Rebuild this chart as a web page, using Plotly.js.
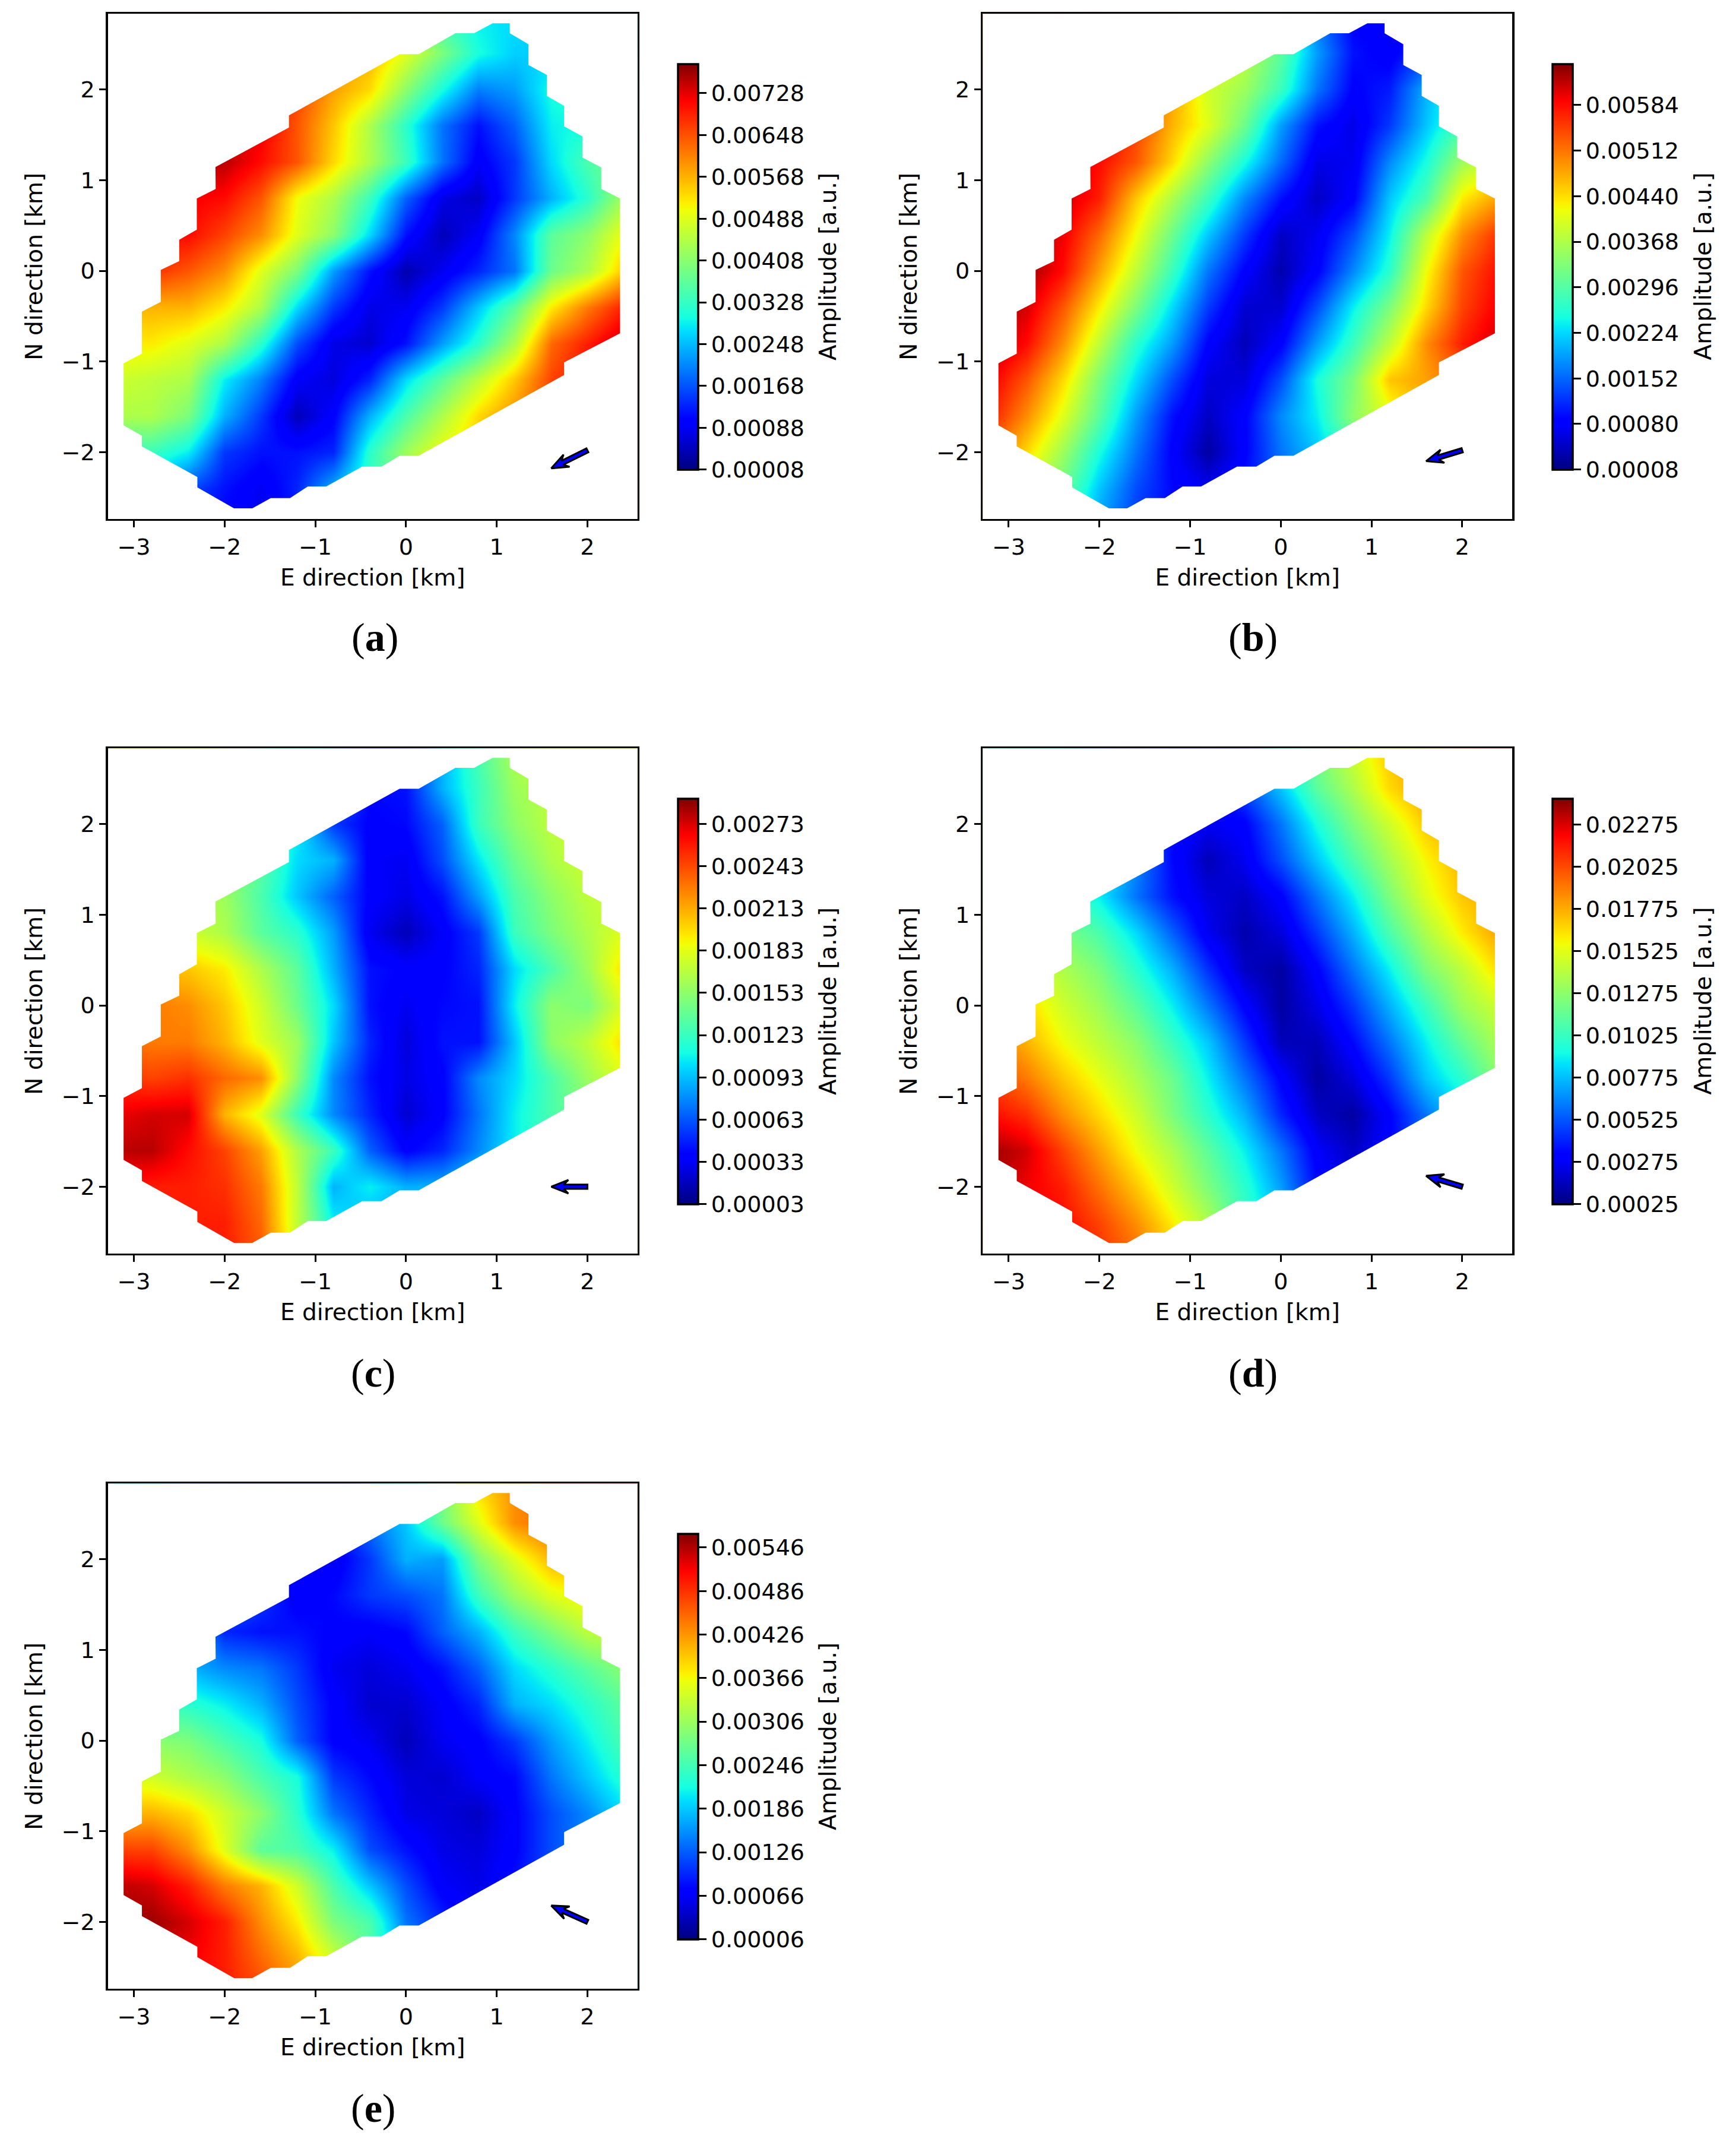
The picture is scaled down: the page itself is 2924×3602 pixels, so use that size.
<!DOCTYPE html>
<html><head><meta charset="utf-8">
<script src="https://cdn.plot.ly/plotly-3.0.1.min.js"></script>
<style>html,body{margin:0;padding:0;background:#fff}</style></head>
<body><div id="chart" style="width:2924px;height:3602px"></div>
<script>
const gridE=[-3.2,-2.8,-2.4,-2.0,-1.6,-1.2,-0.8,-0.4,0,0.4,0.8,1.2,1.6,2.0,2.4];
const gridN=[2.8,2.4,2.0,1.6,1.2,0.8,0.4,0,-0.4,-0.8,-1.2,-1.6,-2.0,-2.4,-2.8];
// colour level (percent of each colour bar) read at each grid node
const levelsA=[
[90,90,88,86,84,80,74,64,54,42,36,34,34,34,34],
[90,90,90,88,86,82,76,72,62,50,38,33,33,34,36],
[92,92,92,90,88,84,74,68,52,38,25,28,38,40,42],
[96,96,96,96,92,82,70,56,40,24,14,22,36,38,44],
[96,96,96,96,90,82,68,56,42,24,11,18,34,44,50],
[92,92,92,90,82,64,56,42,22,9,6,18,30,40,55],
[90,90,90,84,76,62,52,34,14,5,11,26,46,52,64],
[86,86,82,76,62,50,28,14,4,10,16,24,48,56,70],
[72,72,72,66,56,34,18,9,10,18,32,46,66,78,88],
[66,66,62,56,40,20,9,7,14,28,40,56,80,88,96],
[60,58,56,36,25,11,8,16,34,46,58,70,84,90,96],
[56,56,50,30,18,5,12,30,44,56,68,76,84,90,96],
[42,42,36,18,14,14,16,40,54,64,70,76,84,90,96],
[30,30,20,14,10,16,30,42,50,60,70,76,84,90,96],
[20,20,16,12,10,14,30,42,50,60,70,76,84,90,96]];
const levelsB=[
[94,94,92,88,80,72,64,56,44,24,12,10,14,20,30],
[96,96,94,90,82,74,66,58,46,28,14,11,18,26,34],
[98,98,96,92,84,74,60,54,42,24,12,15,30,40,46],
[98,98,96,94,84,72,62,48,28,14,9,18,32,44,52],
[98,98,96,90,82,68,52,38,23,9,10,26,38,54,62],
[98,98,95,88,70,56,42,26,14,6,12,32,44,66,74],
[98,98,92,80,64,48,32,18,6,10,20,36,58,76,86],
[99,98,90,74,58,42,24,12,4,12,26,40,64,82,90],
[98,94,82,66,50,34,18,7,7,20,36,50,68,84,92],
[97,90,76,58,40,28,12,5,12,28,42,58,76,88,95],
[92,82,68,50,34,20,8,8,20,38,50,70,74,80,90],
[88,76,62,46,28,14,6,12,26,36,52,62,72,80,90],
[80,68,54,38,24,12,3,12,24,32,44,56,72,80,90],
[72,60,48,32,20,13,10,14,22,30,44,56,72,80,90],
[66,56,44,28,18,12,10,14,22,30,44,56,72,80,90]];
const levelsC=[
[66,66,62,56,46,36,28,14,14,30,44,56,60,62,64],
[66,66,62,56,46,36,26,13,14,30,42,54,58,62,64],
[66,64,60,56,46,36,18,12,13,22,42,52,58,60,62],
[64,62,58,54,46,34,30,11,10,20,35,48,56,60,62],
[62,60,58,54,44,32,22,12,9,14,28,44,52,58,60],
[62,60,60,56,46,40,28,10,5,11,18,42,50,56,62],
[72,72,70,66,56,46,30,14,12,12,16,34,44,54,68],
[78,78,76,70,60,48,34,14,10,13,14,36,52,50,62],
[80,78,78,72,62,54,32,16,8,14,14,32,52,58,68],
[86,84,86,80,76,52,26,14,9,12,26,34,44,54,62],
[92,94,94,72,62,42,26,16,7,12,24,36,44,50,58],
[96,96,90,84,74,56,42,22,12,16,26,36,44,50,58],
[90,88,88,86,78,58,30,36,30,30,36,40,44,50,58],
[88,88,88,88,80,58,36,30,30,30,36,40,44,50,58],
[88,88,88,88,82,60,36,30,30,30,36,40,44,50,58]];
const levelsD=[
[44,38,30,24,18,12,8,14,36,50,60,70,76,80,84],
[46,40,34,28,20,13,8,20,32,46,56,68,74,78,82],
[48,44,38,32,22,13,10,12,24,38,50,60,70,74,78],
[50,46,42,36,26,13,5,10,20,32,44,55,65,72,76],
[54,50,44,36,24,14,8,6,12,24,36,50,62,70,74],
[60,56,50,44,34,22,10,4,8,18,30,44,56,66,74],
[66,62,56,50,40,30,17,6,3,12,24,36,50,58,68],
[72,68,60,54,46,36,24,12,3,9,18,30,42,54,60],
[78,72,64,58,52,42,32,18,5,5,13,24,36,47,56],
[84,78,70,63,56,48,36,24,12,3,8,18,32,40,52],
[90,86,76,68,60,50,40,30,16,6,3,12,24,34,46],
[98,94,84,74,64,56,46,36,24,11,6,12,22,32,44],
[98,92,88,79,70,60,50,40,28,13,8,12,22,32,44],
[96,92,90,84,76,66,56,42,32,16,8,12,22,32,44],
[96,92,90,86,80,70,60,46,34,18,8,12,22,32,44]];
const levelsE=[
[32,28,24,20,16,14,14,26,36,50,68,76,80,84,86],
[34,30,26,20,16,14,14,24,32,48,62,76,80,80,80],
[36,32,28,22,16,12,10,18,30,28,50,62,72,74,76],
[36,34,30,24,18,11,13,18,20,24,42,54,62,66,68],
[38,36,32,16,14,14,12,11,13,22,30,42,50,58,60],
[42,38,30,26,24,18,10,8,10,14,22,34,40,46,52],
[48,44,40,36,30,20,12,7,7,11,16,30,34,40,46],
[54,52,50,44,38,22,12,10,5,10,12,18,28,36,44],
[62,60,56,52,44,38,18,13,8,7,11,13,24,32,40],
[72,72,68,60,52,40,24,16,9,8,6,12,20,26,34],
[84,84,76,62,46,44,36,20,14,9,8,12,20,26,34],
[96,94,88,78,72,60,44,32,20,11,9,14,20,26,34],
[98,98,94,88,76,66,50,44,24,16,10,14,20,26,34],
[96,96,92,88,80,72,60,46,30,18,10,14,20,26,34],
[96,96,92,88,84,76,64,50,34,18,10,14,20,26,34]];
// survey footprint outline
const outlineE=[-2.10,-1.29,-1.29,-0.07,0.14,0.544,0.75,0.954,1.144,1.144,1.35,1.35,1.553,1.553,1.743,1.743,1.945,1.945,2.153,2.153,2.36,2.36,1.743,1.743,0.14,-0.07,-0.27,-0.483,-0.88,-1.083,-1.278,-1.49,-1.694,-1.896,-2.30,-2.30,-2.911,-2.911,-3.113,-3.113,-2.911,-2.911,-2.703,-2.703,-2.50,-2.50,-2.306,-2.306,-2.098,-2.10];
const outlineN=[1.145,1.58,1.715,2.39,2.39,2.62,2.62,2.73,2.73,2.62,2.50,2.27,2.16,1.93,1.82,1.594,1.483,1.25,1.14,0.903,0.797,-0.69,-1.01,-1.15,-2.04,-2.04,-2.16,-2.16,-2.38,-2.38,-2.507,-2.507,-2.62,-2.62,-2.39,-2.275,-1.937,-1.82,-1.705,-1.02,-0.913,-0.45,-0.343,0.01,0.106,0.343,0.454,0.797,0.903,1.145];
const ticksA=[0.00008,0.00088,0.00168,0.00248,0.00328,0.00408,0.00488,0.00568,0.00648,0.00728];
const ticksB=[0.00008,0.0008,0.00152,0.00224,0.00296,0.00368,0.0044,0.00512,0.00584];
const ticksC=[0.00003,0.00033,0.00063,0.00093,0.00123,0.00153,0.00183,0.00213,0.00243,0.00273];
const ticksD=[0.00025,0.00275,0.00525,0.00775,0.01025,0.01275,0.01525,0.01775,0.02025,0.02275];
const ticksE=[0.00006,0.00066,0.00126,0.00186,0.00246,0.00306,0.00366,0.00426,0.00486,0.00546];
const maxAmp=[0.00784,0.00649,0.00291,0.02429,0.00565];
const arrowTipE=[1.6,1.6,1.6,1.6,1.6];
const arrowTipN=[-2.18,-2.10,-2.0,-1.88,-1.82];
const arrowTailE=[2,2,2,2,2];
const arrowTailN=[-1.98,-1.98,-2.0,-2.0,-2.0];
const panelNames=['a','b','c','d','e'];
const allLevels=[levelsA,levelsB,levelsC,levelsD,levelsE];
const allTicks=[ticksA,ticksB,ticksC,ticksD,ticksE];

const W=2924,H=3602;
const offX=[0,1473.5,0,1473.5,0], offY=[0,0,1237,1237,2475];
const LW=3.5;
const capX=[631,2110,629,2110,629], capY=[1073,1073,2312,2312,3550];
const xRange=[-3.286,2.552], yRange=[-2.738,2.834];
const jet=[[0,'rgb(0,0,128)'],[0.11,'rgb(0,0,255)'],[0.125,'rgb(0,0,255)'],[0.34,'rgb(0,219,255)'],[0.35,'rgb(0,230,247)'],[0.375,'rgb(21,255,226)'],[0.64,'rgb(239,255,8)'],[0.65,'rgb(247,246,0)'],[0.66,'rgb(255,236,0)'],[0.89,'rgb(255,19,0)'],[0.91,'rgb(255,0,0)'],[1,'rgb(128,0,0)']];
const FONT='"DejaVu Sans", sans-serif', FS=38, TS=39;
const axisCommon={showgrid:false,zeroline:false,ticks:'outside',ticklen:11,tickwidth:3,tickcolor:'#000',linecolor:'#000',linewidth:LW,mirror:true,dtick:1,tick0:0,tickfont:{family:FONT,size:FS,color:'#000'},automargin:false};
const maskE=[xRange[0],xRange[1],xRange[1],xRange[0],xRange[0]].concat(outlineE,[xRange[0]]);
const maskN=[yRange[0],yRange[0],yRange[1],yRange[1],yRange[0]].concat(outlineN,[yRange[0]]);

function arrowPoly(x0,y0,x1,y1){
  const dx=x1-x0,dy=y1-y0,L=Math.hypot(dx,dy),ux=dx/L,uy=dy/L,px=-uy,py=ux;
  const pt=(back,off)=>[x1-ux*back+px*off,y1-uy*back+py*off];
  const pts=[pt(0,0),pt(0.19,0.075),pt(0.14,0.024),pt(L,0.024),pt(L,-0.024),pt(0.14,-0.024),pt(0.19,-0.075),pt(0,0)];
  return {x:pts.map(p=>p[0]),y:pts.map(p=>p[1])};
}
const traces=[],layout={width:W,height:H,autosize:false,margin:{l:0,r:0,t:0,b:0},paper_bgcolor:'#fff',plot_bgcolor:'#fff',showlegend:false,annotations:[]};
panelNames.forEach((name,i)=>{
  const s=i===0?'':String(i+1);
  const zmin=allTicks[i][0],zmax=maxAmp[i];
  const z=allLevels[i].map(r=>r.map(v=>zmin+v/100*(zmax-zmin)));
  const cbL=1141.5+offX[i], cbT=107.3+offY[i], cbB=790.7+offY[i];
  traces.push({type:'heatmap',x:gridE,y:gridN,z:z,zsmooth:'best',zmin:zmin,zmax:zmax,colorscale:jet,xaxis:'x'+s,yaxis:'y'+s,hoverinfo:'skip',
    colorbar:{x:cbL/W,xanchor:'left',xpad:0,y:1-cbB/H,yanchor:'bottom',ypad:0,len:cbB-cbT,lenmode:'pixels',thickness:34,thicknessmode:'pixels',outlinewidth:3.5,outlinecolor:'#000',
      tickvals:allTicks[i],tickformat:'.5f',tickprefix:'\u00a0',ticks:'outside',ticklen:13,tickwidth:3,tickcolor:'#000',tickfont:{family:FONT,size:FS,color:'#000'}}});
  traces.push({type:'scatter',mode:'lines',x:maskE,y:maskN,fill:'toself',fillcolor:'#fff',line:{width:0,color:'#fff'},xaxis:'x'+s,yaxis:'y'+s,hoverinfo:'skip',showlegend:false});
  const a=arrowPoly(arrowTailE[i],arrowTailN[i],arrowTipE[i],arrowTipN[i]);
  traces.push({type:'scatter',mode:'lines',x:a.x,y:a.y,fill:'toself',fillcolor:'#0000ff',line:{width:3,color:'#000'},xaxis:'x'+s,yaxis:'y'+s,hoverinfo:'skip',showlegend:false});
  const L=180+LW/2+offX[i],R=1075.5-LW/2+offX[i],T=21.7+LW/2+offY[i],B=875.7-LW/2+offY[i];
  layout['xaxis'+s]=Object.assign({},axisCommon,{domain:[L/W,R/W],range:xRange,anchor:'y'+s,title:{text:'E direction [km]',standoff:17,font:{family:FONT,size:TS,color:'#000'}}});
  layout['yaxis'+s]=Object.assign({},axisCommon,{domain:[1-B/H,1-T/H],range:yRange,anchor:'x'+s,title:{text:'N direction [km]',standoff:21,font:{family:FONT,size:TS,color:'#000'}}});
  layout.annotations.push({xref:'paper',yref:'paper',x:capX[i]/W,y:1-capY[i]/H,text:'(<b>'+name+'</b>)',showarrow:false,xanchor:'center',yanchor:'middle',font:{family:'"Liberation Serif", serif',size:68,color:'#000'}});
  layout.annotations.push({xref:'paper',yref:'paper',x:(1394+offX[i])/W,y:1-(cbT+cbB)/2/H,text:'Amplitude [a.u.]',textangle:-90,showarrow:false,xanchor:'center',yanchor:'middle',font:{family:FONT,size:TS,color:'#000'}});
});
Plotly.newPlot('chart',traces,layout,{displayModeBar:false,staticPlot:true});
</script></body></html>
